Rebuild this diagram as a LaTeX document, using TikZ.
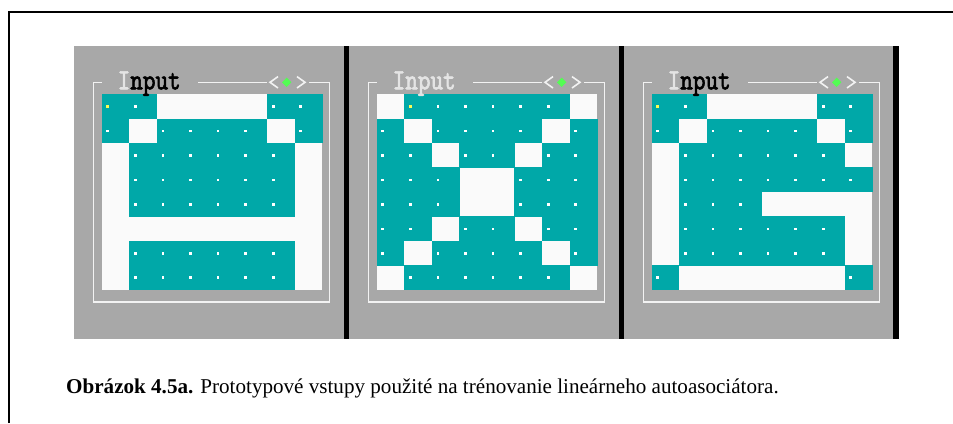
\documentclass[tikz,border=0pt]{standalone}
\usepackage{fontspec}
\setmainfont{Liberation Serif}
\newfontfamily\titlefont[FakeBold=2.2]{lmmono10-regular.otf}
\definecolor{panelgray}{HTML}{A8A8A8}
\definecolor{cellteal}{HTML}{00A8A8}
\definecolor{cellwhite}{HTML}{FAFAFA}
\definecolor{markgreen}{HTML}{54FC54}
\definecolor{cursoryellow}{HTML}{FCFC54}
\definecolor{framewhite}{HTML}{F2F2F2}
\definecolor{titlelight}{HTML}{E4E4E4}

% 8x8 input patterns (1 = active cell)
\def\patA{{1,1,0,0,0,0,1,1},{1,0,1,1,1,1,0,1},{0,1,1,1,1,1,1,0},{0,1,1,1,1,1,1,0},{0,1,1,1,1,1,1,0},{0,0,0,0,0,0,0,0},{0,1,1,1,1,1,1,0},{0,1,1,1,1,1,1,0}}
\def\patX{{0,1,1,1,1,1,1,0},{1,0,1,1,1,1,0,1},{1,1,0,1,1,0,1,1},{1,1,1,0,0,1,1,1},{1,1,1,0,0,1,1,1},{1,1,0,1,1,0,1,1},{1,0,1,1,1,1,0,1},{0,1,1,1,1,1,1,0}}
\def\patG{{1,1,0,0,0,0,1,1},{1,0,1,1,1,1,0,1},{0,1,1,1,1,1,1,0},{0,1,1,1,1,1,1,1},{0,1,1,1,0,0,0,0},{0,1,1,1,1,1,1,0},{0,1,1,1,1,1,1,0},{1,0,0,0,0,0,0,1}}

\newcommand\cellw{27.575}
\newcommand\cellh{24.46}

% #1 horizontal offset, #2 pattern
\newcommand\drawpattern[2]{%
  \begin{scope}[shift={(#1,0)}]
    \fill[cellwhite] (101.7,94.3) rectangle (322.3,290);
    \foreach \prow [count=\ri from 0] in #2 {
      \foreach \v [count=\ci from 0] in \prow {
        \pgfmathsetmacro\cx{101.7+\ci*\cellw}
        \pgfmathsetmacro\cy{94.3+\ri*\cellh}
        \ifnum\v=1
          \fill[cellteal] (\cx-0.2,\cy-0.2) rectangle ++(\cellw+0.4,\cellh+0.4);
          \fill[white] (\cx+4.7,\cy+10.9) rectangle ++(2.7,2.7);
        \fi
      }
    }
  \end{scope}}

% #1 horizontal offset
\newcommand\drawbracket[1]{%
  \begin{scope}[shift={(#1,0)}]
    \draw[bracket] (101.7,82.3) -- (93.3,82.3) -- (93.3,301.7) -- (329.3,301.7) -- (329.3,82.3) -- (309.3,82.3);
    \draw[bracket] (198,82.3) -- (266.7,82.3);
    \draw[bracket, line join=miter] (278,76.6) -- (270,82.3) -- (278,88);
    \draw[bracket, line join=miter] (297,76.6) -- (305,82.3) -- (297,88);
    \fill[markgreen] (286.7,77.6) -- (291.4,82.3) -- (286.7,87) -- (282,82.3) -- cycle;
  \end{scope}}

\begin{document}
\begin{tikzpicture}[x=1pt,y=-1pt,
  bracket/.style={framewhite, line width=1.6pt},
  titletext/.style={inner sep=0pt, anchor=base west, font=\titlefont\fontsize{24}{24}\selectfont},
  caption/.style={inner sep=0pt, anchor=base west, font=\fontsize{21.1}{24}\selectfont}]
  \useasboundingbox (0,0) rectangle (953,423);
  \fill[white] (0,0) rectangle (953,423);

  % page frame
  \draw[line width=2pt] (9,423) -- (9,12) -- (953,12);

  % screen strip with separators
  \fill[panelgray] (74,46) rectangle (893,339);
  \fill[black] (344,46) rectangle (349,339);
  \fill[black] (619,46) rectangle (624,339);
  \fill[black] (893,46) rectangle (899,339);

  \drawpattern{0}{\patA}
  \drawpattern{275}{\patX}
  \drawpattern{550}{\patG}

  % cursor marks
  \fill[cursoryellow] (106.4,105.2) rectangle ++(2.7,2.7);
  \fill[cursoryellow] (409,105.2) rectangle ++(2.7,2.7);
  \fill[cursoryellow] (656.4,105.2) rectangle ++(2.7,2.7);

  \drawbracket{0}
  \drawbracket{275}
  \drawbracket{550}

  \node[titletext] (title1) at (117.5,89.3) {\scalebox{1}[1.22]{\textcolor{titlelight}{I}nput}};
  \node[titletext, text=titlelight] (title2) at (392.5,89.3) {\scalebox{1}[1.22]{Input}};
  \node[titletext] (title3) at (667.5,89.3) {\scalebox{1}[1.22]{\textcolor{titlelight}{I}nput}};

  \node[caption] (caption) at (66,393.7) {\textbf{Obrázok 4.5a.} Prototypové vstupy použité na trénovanie lineárneho autoasociátora.};
\end{tikzpicture}
\end{document}
